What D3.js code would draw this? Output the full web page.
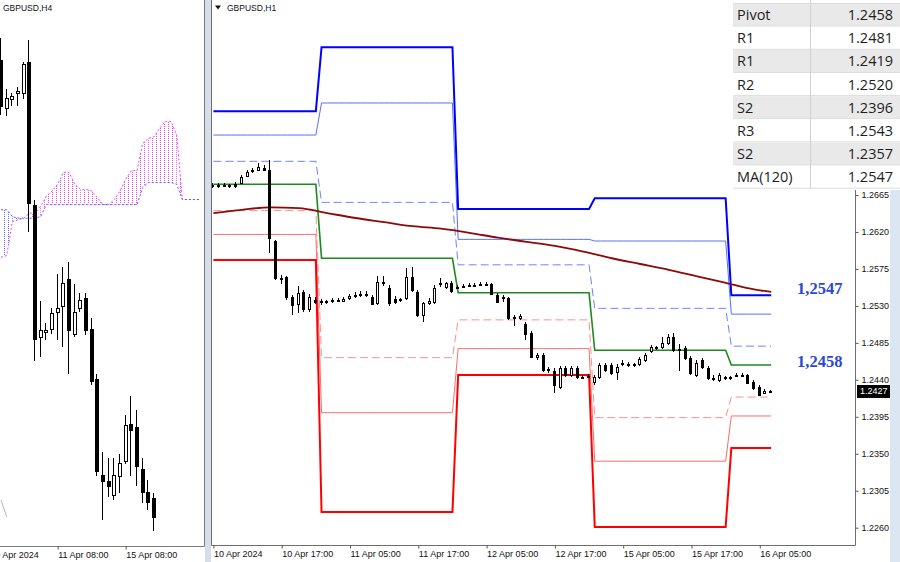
<!DOCTYPE html>
<html>
<head>
<meta charset="utf-8">
<script src="https://cdn.jsdelivr.net/npm/d3@7"></script>
<style>
  html, body { margin: 0; padding: 0; background: #fff; }
  svg { display: block; font-family: 'Liberation Sans', Arial, sans-serif; }
</style>
</head>
<body>
<svg id="chart" width="900" height="562"></svg>
<script>
// ---- H1 panel data (GBPUSD, H1, bar 0 = 10 Apr 05:00) ----
var h1Open = [1.2677,1.2676,1.2677,1.2676,1.2678,1.2680,1.2688,1.2694,1.2695,1.2698,
  1.2695,1.2609,1.2564,1.2565,1.2541,1.2532,1.2547,1.2526,1.2537,1.2536,
  1.2535,1.2536,1.2537,1.2536,1.2540,1.2542,1.2543,1.2544,1.2541,1.2534,
  1.2558,1.2552,1.2538,1.2537,1.2540,1.2565,1.2547,1.2519,1.2534,1.2535,
  1.2557,1.2553,1.2558,1.2553,1.2554,1.2555,1.2555,1.2556,1.2557,1.2557,
  1.2543,1.2541,1.2540,1.2516,1.2515,1.2508,1.2497,1.2468,1.2470,1.2452,
  1.2451,1.2431,1.2454,1.2446,1.2454,1.2443,1.2444,1.2437,1.2443,1.2458,
  1.2458,1.2450,1.2459,1.2458,1.2459,1.2459,1.2464,1.2475,1.2479,1.2480,
  1.2485,1.2492,1.2476,1.2479,1.2467,1.2446,1.2464,1.2454,1.2442,1.2440,
  1.2442,1.2443,1.2445,1.2446,1.2446,1.2437,1.2431,1.2424,1.2426];
var h1High = [1.2680,1.2680,1.2680,1.2678,1.2681,1.2689,1.2695,1.2698,1.2704,1.2701,
  1.2708,1.2610,1.2568,1.2566,1.2543,1.2554,1.2549,1.2544,1.2541,1.2538,
  1.2537,1.2540,1.2540,1.2541,1.2544,1.2547,1.2548,1.2548,1.2543,1.2566,
  1.2566,1.2555,1.2542,1.2540,1.2576,1.2577,1.2549,1.2535,1.2540,1.2555,
  1.2564,1.2559,1.2560,1.2555,1.2557,1.2558,1.2558,1.2559,1.2559,1.2558,
  1.2546,1.2543,1.2541,1.2519,1.2520,1.2510,1.2499,1.2473,1.2473,1.2456,
  1.2454,1.2457,1.2457,1.2457,1.2457,1.2446,1.2447,1.2446,1.2460,1.2460,
  1.2460,1.2459,1.2464,1.2462,1.2460,1.2468,1.2473,1.2482,1.2481,1.2492,
  1.2496,1.2497,1.2484,1.2481,1.2469,1.2464,1.2467,1.2457,1.2446,1.2448,
  1.2445,1.2445,1.2448,1.2448,1.2447,1.2440,1.2434,1.2429,1.2428];
var h1Low = [1.2674,1.2674,1.2675,1.2674,1.2674,1.2678,1.2687,1.2692,1.2694,1.2694,
  1.2594,1.2562,1.2557,1.2537,1.2519,1.2521,1.2523,1.2523,1.2532,1.2531,
  1.2532,1.2534,1.2535,1.2535,1.2537,1.2540,1.2541,1.2541,1.2531,1.2531,
  1.2554,1.2530,1.2532,1.2535,1.2537,1.2547,1.2516,1.2510,1.2531,1.2532,
  1.2553,1.2551,1.2546,1.2551,1.2552,1.2553,1.2553,1.2554,1.2554,1.2543,
  1.2534,1.2535,1.2513,1.2506,1.2513,1.2488,1.2467,1.2464,1.2450,1.2448,
  1.2424,1.2429,1.2443,1.2443,1.2441,1.2441,1.2442,1.2434,1.2441,1.2450,
  1.2446,1.2440,1.2457,1.2456,1.2456,1.2457,1.2462,1.2473,1.2476,1.2478,
  1.2482,1.2474,1.2451,1.2464,1.2446,1.2443,1.2453,1.2440,1.2439,1.2437,
  1.2440,1.2440,1.2443,1.2443,1.2435,1.2428,1.2420,1.2423,1.2425];
var h1Close = [1.2676,1.2677,1.2676,1.2677,1.2676,1.2687,1.2693,1.2695,1.2699,1.2695,
  1.2613,1.2564,1.2563,1.2541,1.2531,1.2546,1.2526,1.2541,1.2535,1.2535,
  1.2536,1.2537,1.2536,1.2538,1.2542,1.2543,1.2544,1.2543,1.2532,1.2559,
  1.2559,1.2534,1.2535,1.2538,1.2565,1.2549,1.2519,1.2534,1.2536,1.2552,
  1.2558,1.2558,1.2548,1.2552,1.2553,1.2556,1.2555,1.2557,1.2557,1.2544,
  1.2535,1.2540,1.2515,1.2517,1.2518,1.2496,1.2468,1.2470,1.2452,1.2453,
  1.2434,1.2454,1.2446,1.2454,1.2443,1.2444,1.2445,1.2443,1.2458,1.2452,
  1.2448,1.2456,1.2460,1.2459,1.2458,1.2465,1.2470,1.2480,1.2480,1.2485,
  1.2492,1.2476,1.2478,1.2467,1.2448,1.2460,1.2456,1.2442,1.2441,1.2446,
  1.2443,1.2442,1.2446,1.2446,1.2436,1.2430,1.2422,1.2426,1.2427];

// daily levels: 10, 11, 12, 15, 16 Apr; bar where each day starts
var dayStartBars = [0, 19, 43, 67, 91];
var levelR3 = [1.2767, 1.2845, 1.2648, 1.2661, 1.2543];
var levelR2 = [1.2738, 1.2777, 1.2611, 1.2609, 1.2520];
var levelR1 = [1.2706, 1.2656, 1.2580, 1.2527, 1.2481];
var levelPivot = [1.2678, 1.2588, 1.2546, 1.2476, 1.2458];
var levelS1 = [1.2646, 1.2467, 1.2513, 1.2394, 1.2419];
var levelS2 = [1.2617, 1.2400, 1.2478, 1.2341, 1.2396];
var levelS3 = [1.2586, 1.2279, 1.2446, 1.2261, 1.2357];

// MA(120) read at these bars
var maBars = [0, 5, 10, 15, 20, 25, 30, 35, 40, 45, 50, 55, 60, 65, 70, 75, 80, 85, 90, 95, 98];
var maValues = [1.2643, 1.2647, 1.2650, 1.2649, 1.2643, 1.2637, 1.2632, 1.2627, 1.2624, 1.2619,
  1.2613, 1.2608, 1.2603, 1.2596, 1.2588, 1.2581, 1.2574, 1.2566, 1.2558, 1.2550, 1.2547];

var h1TickBars = [0, 12, 24, 36, 48, 60, 72, 84, 96];
var h1TickLabels = ['10 Apr 2024', '10 Apr 17:00', '11 Apr 05:00', '11 Apr 17:00', '12 Apr 05:00',
  '12 Apr 17:00', '15 Apr 05:00', '15 Apr 17:00', '16 Apr 05:00'];
var priceTicks = [1.2260, 1.2305, 1.2350, 1.2395, 1.2440, 1.2485, 1.2530, 1.2575, 1.2620, 1.2665];
var lastPrice = 1.2427;
var noteValues = [1.2547, 1.2458];
var noteLabels = ['1,2547', '1,2458'];

var tableLabels = ['Pivot', 'R1', 'R1', 'R2', 'S2', 'R3', 'S2', 'MA(120)'];
var tableValues = [1.2458, 1.2481, 1.2419, 1.2520, 1.2396, 1.2543, 1.2357, 1.2547];

// ---- H4 panel data (bar 0 = 11 Apr 08:00) ----
var h4FirstBar = -10;
var h4Open = [1.2696,1.2668,1.2673,1.2677,1.2677,1.2695,1.2611,1.2533,1.2536,1.2538,1.2548,1.2551,1.2567,1.2535,
  1.2550,1.2556,1.2538,1.2508,1.2452,1.2448,1.2440,1.2451,1.2460,1.2482,1.2480,1.2455,1.2442,1.2438];
var h4High = [1.2709,1.2679,1.2677,1.2680,1.2695,1.2708,1.2614,1.2554,1.2541,1.2550,1.2570,1.2574,1.2577,1.2564,
  1.2559,1.2559,1.2544,1.2511,1.2465,1.2462,1.2462,1.2464,1.2487,1.2498,1.2490,1.2462,1.2449,1.2441];
var h4Low = [1.2664,1.2663,1.2669,1.2669,1.2673,1.2595,1.2519,1.2521,1.2531,1.2535,1.2531,1.2527,1.2511,1.2533,
  1.2548,1.2534,1.2505,1.2451,1.2425,1.2439,1.2437,1.2441,1.2458,1.2451,1.2445,1.2435,1.2431,1.2419];
var h4Close = [1.2669,1.2674,1.2675,1.2678,1.2694,1.2612,1.2532,1.2537,1.2537,1.2547,1.2550,1.2565,1.2537,1.2548,
  1.2555,1.2537,1.2507,1.2454,1.2448,1.2445,1.2452,1.2459,1.2481,1.2478,1.2457,1.2442,1.2436,1.2427];

var cloudFirstBar = -10;
var spanA = [1.2580,1.2581,1.2601,1.2602,1.2603,1.2606,1.2606,1.2610,1.2616,1.2619,1.2623,1.2630,
  1.2630,1.2623,1.2620,1.2620,1.2619,1.2615,1.2611,1.2611,1.2614,1.2619,1.2626,1.2631,
  1.2631,1.2647,1.2650,1.2651,1.2656,1.2660,1.2660,1.2652,1.2614,1.2614,1.2614,1.2614];
var spanB = [1.2608,1.2608,1.2604,1.2603,1.2603,1.2603,1.2603,1.2604,1.2611,1.2611,1.2611,1.2611,
  1.2611,1.2611,1.2611,1.2611,1.2611,1.2611,1.2611,1.2611,1.2611,1.2611,1.2611,1.2611,
  1.2611,1.2621,1.2624,1.2624,1.2624,1.2624,1.2624,1.2623,1.2614,1.2614,1.2614,1.2614];
var faintBars = [-10, -9];
var faintValues = [1.2437, 1.2427];

var h4TickBars = [-12, 0, 12];
var h4TickLabels = ['10 Apr 2024', '11 Apr 08:00', '15 Apr 08:00'];

(function () {
    'use strict';

    var svg = d3.select('#chart');
    var defs = svg.append('defs');

    defs.append('clipPath').attr('id', 'clipL')
        .append('rect').attr('x', 0).attr('y', 0).attr('width', 204).attr('height', 546);
    defs.append('clipPath').attr('id', 'clipR')
        .append('rect').attr('x', 212).attr('y', 0).attr('width', 643).attr('height', 545);

    // dotted hatch patterns for the cloud
    [['hatchUp', '#ee44ee'], ['hatchDn', '#6464ff']].forEach(function (p) {
        var pat = defs.append('pattern').attr('id', p[0])
            .attr('patternUnits', 'userSpaceOnUse')
            .attr('width', 4).attr('height', 2);
        pat.append('rect').attr('x', 0).attr('y', 0).attr('width', 1).attr('height', 1)
            .attr('fill', p[1]);
    });

    // ---------------- left panel (H4) ----------------
    var xL = d3.scaleLinear().domain([0, 12]).range([57.7, 125.7]);
    var yL = d3.scaleLinear().domain([1.2427, 1.2695]).range([517, 62]);

    var left = svg.append('g').attr('clip-path', 'url(#clipL)');

    var cloudIdx = d3.range(spanA.length);
    left.append('g').selectAll('path')
        .data(cloudIdx.slice(0, -1))
        .join('path')
        .attr('d', function (k) {
            var x0 = xL(k + cloudFirstBar), x1 = xL(k + 1 + cloudFirstBar);
            return 'M' + x0 + ',' + yL(spanA[k]) + 'L' + x1 + ',' + yL(spanA[k + 1]) +
                'L' + x1 + ',' + yL(spanB[k + 1]) + 'L' + x0 + ',' + yL(spanB[k]) + 'Z';
        })
        .attr('fill', function (k) {
            return spanA[k] + spanA[k + 1] >= spanB[k] + spanB[k + 1] ? 'url(#hatchUp)' : 'url(#hatchDn)';
        });

    var cloudLine = function (vals) {
        return d3.line()
            .x(function (k) { return xL(k + cloudFirstBar); })
            .y(function (k) { return yL(vals[k]); })(cloudIdx);
    };
    left.append('path').attr('d', cloudLine(spanA))
        .attr('fill', 'none').attr('stroke', '#ee44ee').attr('stroke-dasharray', '2,2');
    left.append('path').attr('d', cloudLine(spanB))
        .attr('fill', 'none').attr('stroke', '#5c5cff').attr('stroke-dasharray', '2,2');

    left.append('path')
        .attr('d', d3.line()
            .x(function (d, i) { return xL(faintBars[i]); })
            .y(function (d) { return yL(d); })(faintValues))
        .attr('fill', 'none').attr('stroke', '#b8b8b8');

    drawCandles(left, xL, yL, h4FirstBar, h4Open, h4High, h4Low, h4Close, 3);

    svg.append('text').attr('x', 3).attr('y', 11)
        .attr('font-size', 8.5).attr('fill', '#111').text('GBPUSD,H4');

    // left frame and axis
    svg.append('line').attr('x1', 204.5).attr('x2', 204.5).attr('y1', 0).attr('y2', 546.5)
        .attr('stroke', '#7a7a7a');
    svg.append('line').attr('x1', 0).attr('x2', 204.5).attr('y1', 546.5).attr('y2', 546.5)
        .attr('stroke', '#7a7a7a');
    var axL = svg.append('g').attr('transform', 'translate(0,546.5)')
        .call(d3.axisBottom(xL).tickValues(h4TickBars)
            .tickFormat(function (d, i) { return h4TickLabels[i]; })
            .tickSize(3).tickPadding(2));
    styleAxis(axL);
    axL.selectAll('.tick text').attr('text-anchor', 'start');

    // separator band
    svg.append('rect').attr('x', 205).attr('y', 0).attr('width', 6).attr('height', 562)
        .attr('fill', '#d6dee9');

    // ---------------- right panel (H1) ----------------
    var xR = d3.scaleLinear().domain([0, 12]).range([213.4, 281.7]);
    var yR = d3.scaleLinear().domain([1.2260, 1.2665]).range([527.7, 195]);
    var bars = d3.range(h1Close.length);

    var right = svg.append('g').attr('clip-path', 'url(#clipR)');

    function dayOf(i) {
        var d = 0;
        dayStartBars.forEach(function (s, k) { if (i >= s) { d = k; } });
        return d;
    }

    var levelLine = d3.line()
        .x(function (d) { return xR(d[0]); })
        .y(function (d) { return yR(d[1]); });

    var levels = [
        { vals: levelR2, color: '#5470ff', width: 1, dash: null },
        { vals: levelR1, color: '#6f80ff', width: 1, dash: '8,4' },
        { vals: levelS1, color: '#ff8f8f', width: 1, dash: '8,4' },
        { vals: levelS2, color: '#ff6a6a', width: 1, dash: null },
        { vals: levelR3, color: '#0000ff', width: 2, dash: null },
        { vals: levelS3, color: '#ff0000', width: 2, dash: null },
        { vals: levelPivot, color: '#1d8a1d', width: 1.6, dash: null }
    ];

    levels.forEach(function (lv) {
        var pts = bars.map(function (i) { return [i, lv.vals[dayOf(i)]]; });
        right.append('path')
            .attr('d', levelLine(pts))
            .attr('fill', 'none')
            .attr('stroke', lv.color)
            .attr('stroke-width', lv.width)
            .attr('stroke-dasharray', lv.dash);
    });

    right.append('path')
        .attr('d', d3.line()
            .curve(d3.curveMonotoneX)
            .x(function (d, i) { return xR(maBars[i]); })
            .y(function (d) { return yR(d); })(maValues))
        .attr('fill', 'none')
        .attr('stroke', '#8b0a0a')
        .attr('stroke-width', 1.8);

    drawCandles(right, xR, yR, 0, h1Open, h1High, h1Low, h1Close, 2);

    // frame
    svg.append('path')
        .attr('d', 'M211.5,0V545.5H855.5V0')
        .attr('fill', 'none').attr('stroke', '#6e6e6e');

    var axB = svg.append('g').attr('transform', 'translate(0,545.5)')
        .call(d3.axisBottom(xR).tickValues(h1TickBars)
            .tickFormat(function (d, i) { return h1TickLabels[i]; })
            .tickSize(3).tickPadding(2));
    styleAxis(axB);
    axB.selectAll('.tick text').attr('text-anchor', 'start');

    var axY = svg.append('g').attr('transform', 'translate(855.5,0)')
        .call(d3.axisRight(yR).tickValues(priceTicks)
            .tickFormat(d3.format('.4f'))
            .tickSize(3).tickPadding(3));
    styleAxis(axY);

    // right light band
    svg.append('rect').attr('x', 890).attr('y', 0).attr('width', 10).attr('height', 562)
        .attr('fill', '#dce6f2');

    // last price box
    svg.append('rect')
        .attr('x', 857).attr('y', Math.round(yR(lastPrice)) - 6)
        .attr('width', 33).attr('height', 13)
        .attr('fill', '#000');
    svg.append('text')
        .attr('x', 860).attr('y', yR(lastPrice) + 3.5)
        .attr('font-size', 9).attr('fill', '#fff')
        .text(d3.format('.4f')(lastPrice));

    // title
    svg.append('path').attr('d', 'M215,5.5H221L218,9.5Z').attr('fill', '#111');
    svg.append('text').attr('x', 227).attr('y', 11)
        .attr('font-size', 8.5).attr('fill', '#111').text('GBPUSD,H1');

    // level notes
    svg.selectAll('text.note')
        .data(noteValues)
        .join('text')
        .attr('class', 'note')
        .attr('x', 797)
        .attr('y', function (d) { return yR(d) + 2; })
        .attr('font-family', "'Liberation Serif', 'Times New Roman', serif")
        .attr('font-weight', 'bold')
        .attr('font-size', 16.5)
        .attr('fill', '#2a48d6')
        .text(function (d, i) { return noteLabels[i]; });

    // ---------------- table ----------------
    var rowH = 23.15;
    var tbl = svg.append('g').attr('font-family', "'Open Sans', 'Noto Sans', sans-serif");
    tbl.append('rect').attr('x', 733).attr('y', 0).attr('width', 167).attr('height', 190)
        .attr('fill', '#fff');
    var rows = tbl.selectAll('g.row')
        .data(tableLabels)
        .join('g')
        .attr('class', 'row')
        .attr('transform', function (d, i) { return 'translate(0,' + (3.5 + i * rowH) + ')'; });
    rows.append('rect')
        .attr('x', 733).attr('y', 0).attr('width', 167).attr('height', rowH)
        .attr('fill', function (d, i) { return i % 2 === 0 ? '#e9e9e9' : '#fff'; });
    rows.append('line')
        .attr('x1', 733).attr('x2', 900).attr('y1', rowH - 0.5).attr('y2', rowH - 0.5)
        .attr('stroke', '#dcdcdc');
    rows.append('text')
        .attr('x', 737).attr('y', rowH / 2 + 5)
        .attr('font-size', 14.5).attr('fill', '#1e1e1e')
        .text(function (d) { return d; });
    rows.append('text')
        .attr('x', 893).attr('y', rowH / 2 + 5)
        .attr('text-anchor', 'end')
        .attr('font-size', 14.5).attr('fill', '#1e1e1e')
        .text(function (d, i) { return d3.format('.4f')(tableValues[i]); });
    tbl.append('line').attr('x1', 810.5).attr('x2', 810.5).attr('y1', 0).attr('y2', 3.5 + 8 * rowH)
        .attr('stroke', '#d0d0d0');
    tbl.append('line').attr('x1', 733).attr('x2', 900).attr('y1', 3.5).attr('y2', 3.5)
        .attr('stroke', '#dcdcdc');

    // ---------------- helpers ----------------
    function styleAxis(g) {
        g.select('.domain').remove();
        g.attr('font-family', "'Liberation Sans', Arial, sans-serif").attr('font-size', 9);
        g.selectAll('.tick line').attr('stroke', '#555');
        g.selectAll('.tick text').attr('fill', '#111');
    }

    function drawCandles(g, x, y, first, open, high, low, close, bodyW) {
        var idx = d3.range(open.length);
        var cg = g.append('g');
        cg.selectAll('line')
            .data(idx)
            .join('line')
            .attr('x1', function (i) { return Math.round(x(i + first)) - 0.5; })
            .attr('x2', function (i) { return Math.round(x(i + first)) - 0.5; })
            .attr('y1', function (i) { return Math.round(y(high[i])); })
            .attr('y2', function (i) { return Math.round(y(low[i])); })
            .attr('stroke', '#000');
        cg.selectAll('rect')
            .data(idx)
            .join('rect')
            .attr('x', function (i) { return Math.round(x(i + first)) - 1.5; })
            .attr('y', function (i) { return Math.round(y(Math.max(open[i], close[i]))) + 0.5; })
            .attr('width', bodyW)
            .attr('height', function (i) {
                var top = Math.round(y(Math.max(open[i], close[i])));
                var bot = Math.round(y(Math.min(open[i], close[i])));
                return Math.max(1, bot - top);
            })
            .attr('fill', function (i) { return close[i] >= open[i] ? '#fff' : '#000'; })
            .attr('stroke', '#000');
    }
})();
</script>
</body>
</html>
